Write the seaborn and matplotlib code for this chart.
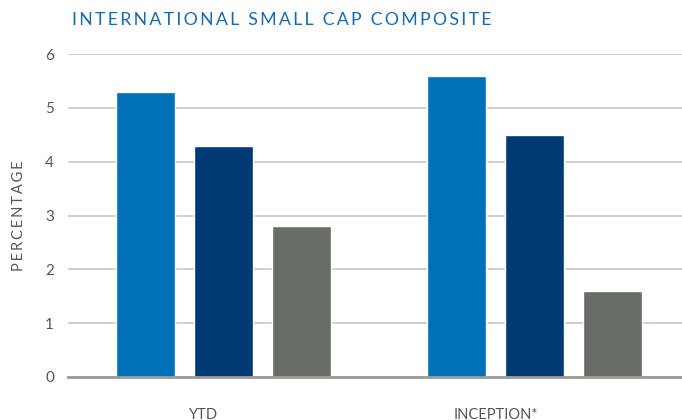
import matplotlib
matplotlib.use("Agg")
import matplotlib.pyplot as plt
import matplotlib.transforms as mtransforms
import seaborn as sns
import pandas as pd

categories = ["YTD", "INCEPTION*"]
series_names = ["Composite", "Benchmark", "Index"]
composite = [5.3, 5.6]
benchmark = [4.3, 4.5]
index_vals = [2.8, 1.6]
y_ticks = [0, 1, 2, 3, 4, 5, 6]
colors = ["#0070b8", "#003a75", "#686d66"]

rows = []
for i, c in enumerate(categories):
    for s, vals in zip(series_names, [composite, benchmark, index_vals]):
        rows.append({"period": c, "series": s, "value": vals[i]})
df = pd.DataFrame(rows)

sns.set_theme(style="white")
plt.rcParams['font.family'] = ['Lato', 'DejaVu Sans']

fig = plt.figure(figsize=(6.82, 4.2), dpi=100)
ax = fig.add_axes([0.0997, 0.1024, 0.9003, 0.769])

sns.barplot(data=df, x="period", y="value", hue="series", order=categories,
            hue_order=series_names, palette=colors, width=0.75, gap=0.24,
            saturation=1, legend=False, ax=ax, zorder=3)

ax.set_ylim(0, 6)
ax.set_xlim(-0.5, 1.475)
ax.set_yticks(y_ticks)
ax.yaxis.grid(True, color="#c8c8c8", linewidth=1.2, zorder=0)
ax.set_axisbelow(True)
for sp in ["top", "right", "left"]:
    ax.spines[sp].set_visible(False)
ax.spines["bottom"].set_color("#9a9a96")
ax.spines["bottom"].set_linewidth(2)
ax.spines["bottom"].set_zorder(4)
ax.tick_params(axis="both", length=0, colors="#555555", labelsize=11)
ax.tick_params(axis="y", pad=10)
ax.tick_params(axis="x", pad=22)
ax.set_xlabel("")
ax.set_ylabel("\u2009".join("PERCENTAGE"), color="#555555",
              fontsize=10.5, labelpad=14)

offsets = [-20, -38]
for lbl, off in zip(ax.get_xticklabels(), offsets):
    lbl.set_fontsize(10.5)
    lbl.set_transform(lbl.get_transform() + mtransforms.ScaledTranslation(off / 100, 0, fig.dpi_scale_trans))

fig.text(72 / 682, 1 - 20 / 420, "\u2009".join("INTERNATIONAL SMALL CAP COMPOSITE"),
         color="#1a6aad", fontsize=12.8, ha="left", va="center")

fig.savefig("out.png", dpi=100)
